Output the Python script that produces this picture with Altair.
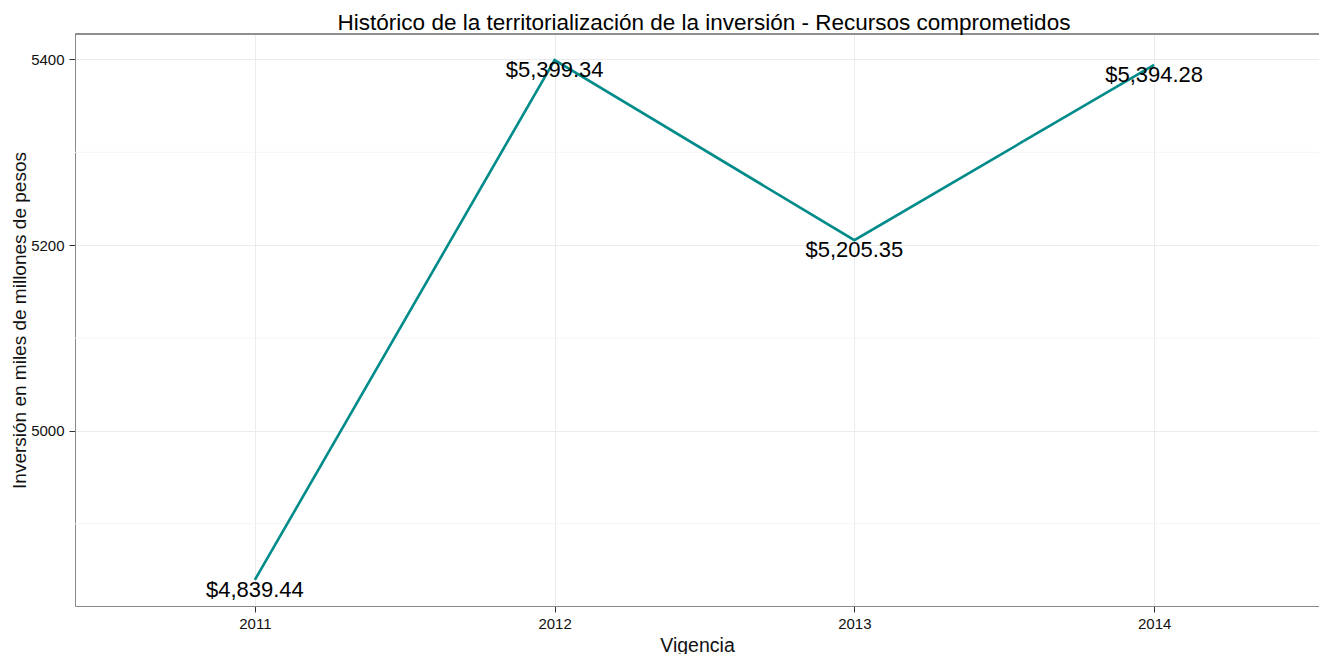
import altair as alt
import pandas as pd

years = [2011, 2012, 2013, 2014]
values = [4839.44, 5399.34, 5205.35, 5394.28]
labels = ["$4,839.44", "$5,399.34", "$5,205.35", "$5,394.28"]
y_ticks = [5000, 5200, 5400]
y_minor = [4900, 5100, 5300]

W = 1244
H = 572
FONT = "Liberation Sans"

df = pd.DataFrame({"year": years, "value": values, "label": labels})
minor = pd.DataFrame({"v": y_minor})

xscale = alt.Scale(domain=[2010.4, 2014.55], nice=False, zero=False)
yscale = alt.Scale(domain=[4811.4, 5427.4], nice=False, zero=False)

xaxis = alt.Axis(values=years, format="d", title="Vigencia", grid=True,
                 gridColor="#ebebeb", domainColor="#888888", tickColor="#333333",
                 tickSize=6, labelFontSize=15, labelColor="#111111", labelFont=FONT,
                 labelPadding=4, titleFont=FONT, titleFontSize=19.5,
                 titleFontWeight="normal", titleColor="#111111", titlePadding=5)
yaxis = alt.Axis(values=y_ticks, format="d", title="Inversión en miles de millones de pesos",
                 grid=True, gridColor="#ebebeb", domainColor="#888888",
                 tickColor="#333333", tickSize=6, labelFontSize=15,
                 labelColor="#111111", labelFont=FONT, labelPadding=5,
                 titleFont=FONT, titleFontSize=19, titleFontWeight="normal",
                 titleColor="#111111", titlePadding=1)

base = alt.Chart(df)

minor_grid = alt.Chart(minor).mark_rule(color="#f4f4f4", strokeWidth=1).encode(
    y=alt.Y("v:Q", scale=yscale, axis=yaxis),
    x=alt.value(0), x2=alt.value(W),
)

line = base.mark_line(color="#008B8B", strokeWidth=2.6).encode(
    x=alt.X("year:Q", scale=xscale, axis=xaxis),
    y=alt.Y("value:Q", scale=yscale, axis=yaxis),
)

text = base.mark_text(fontSize=22, font=FONT, color="#000000", dy=10,
                      baseline="middle", align="center").encode(
    x=alt.X("year:Q", scale=xscale),
    y=alt.Y("value:Q", scale=yscale),
    text="label:N",
)

top_border = alt.Chart(df).mark_rule(color="#888888", strokeWidth=1).encode(
    x=alt.value(0), x2=alt.value(W), y=alt.value(0)
)

chart = alt.layer(minor_grid, line, text, top_border).properties(
    width=W, height=H,
    title=alt.TitleParams(
        "Histórico de la territorialización de la inversión - Recursos comprometidos",
        font=FONT, fontSize=22.5, fontWeight="normal", color="#000000",
        anchor="middle", offset=3, dx=7, dy=4),
    autosize=alt.AutoSizeParams(type="none"),
    padding={"left": 67, "top": 26, "right": 0, "bottom": 50},
).configure_view(stroke=None).configure(background="white")

chart.save("out.html", embed_options={"renderer": "svg", "actions": False})
